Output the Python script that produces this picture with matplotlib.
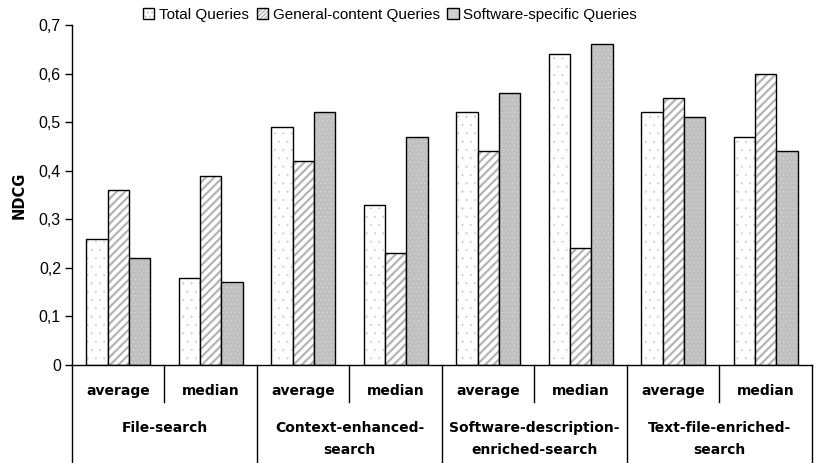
import matplotlib
matplotlib.use("Agg")
import matplotlib.pyplot as plt
import numpy as np
from matplotlib.patches import Patch
from matplotlib.lines import Line2D

plt.rcParams['font.family'] = ['Liberation Sans', 'DejaVu Sans']

groups = ["File-search", "Context-enhanced-\nsearch", "Software-description-\nenriched-search", "Text-file-enriched-\nsearch"]
stats = ["average", "median"]
series = ["Total Queries", "General-content Queries", "Software-specific Queries"]
total = [0.26, 0.18, 0.49, 0.33, 0.52, 0.64, 0.52, 0.47]
general = [0.36, 0.39, 0.42, 0.23, 0.44, 0.24, 0.55, 0.60]
software = [0.22, 0.17, 0.52, 0.47, 0.56, 0.66, 0.51, 0.44]
yticks = [0, 0.1, 0.2, 0.3, 0.4, 0.5, 0.6, 0.7]
ylabels = ["0", "0,1", "0,2", "0,3", "0,4", "0,5", "0,6", "0,7"]

fig = plt.figure(figsize=(8.2, 4.63), dpi=100)
ax = fig.add_axes([72/820, 1-365/463, 740/820, 340/463])

n = len(total)
x = np.arange(n)
w = 0.23
styles = [
    dict(face='white', hatch='..', hcolor='#c8c8c8', hlw=0.2),
    dict(face='white', hatch='////', hcolor='#b4b4b4', hlw=1.6),
    dict(face='#c0c0c0', hatch='....', hcolor='#e4e4e4', hlw=0.2),
]
data = [total, general, software]
for i, (vals, st) in enumerate(zip(data, styles)):
    pos = x + (i - 1) * w
    plt.rcParams['hatch.linewidth'] = st['hlw']
    ax.bar(pos, vals, w, color=st['face'], hatch=st['hatch'], edgecolor=st['hcolor'], linewidth=0)
    ax.bar(pos, vals, w, facecolor='none', edgecolor='black', linewidth=1.0)

ax.set_xlim(-0.5, n - 0.5)
ax.set_ylim(0, 0.7)
ax.set_yticks(yticks)
ax.set_yticklabels(ylabels, fontsize=11.5)
ax.tick_params(axis='y', direction='out', length=5, width=1, pad=3)
ax.set_xticks([])
for s in ['top', 'right']:
    ax.spines[s].set_visible(False)
ax.spines['left'].set_linewidth(1)
ax.spines['bottom'].set_linewidth(1)
ax.set_ylabel("NDCG", fontsize=10.5, fontweight='bold', family='DejaVu Sans', labelpad=9)

# category table below the axis
px = 1.0 / 340
trans = ax.get_xaxis_transform()
for b in range(n + 1):
    xb = b - 0.5
    if b % 2 == 1:
        ax.add_line(Line2D([xb, xb], [0, -37 * px], transform=trans, color='black', lw=1, clip_on=False))
    else:
        ax.add_line(Line2D([xb, xb], [0, -100 * px], transform=trans, color='black', lw=1, clip_on=False))
for i in range(n):
    ax.text(i, -26 * px, stats[i % 2], transform=trans, ha='center', va='center',
            fontsize=10, fontweight='bold', family='DejaVu Sans')
for g, name in enumerate(groups):
    for k, line in enumerate(name.split('\n')):
        ax.text(2 * g + 0.5, (-63 - 22 * k) * px, line, transform=trans, ha='center', va='center',
                fontsize=10, fontweight='bold', family='DejaVu Sans')

plt.rcParams['hatch.linewidth'] = 1.0
handles = []
for st in styles:
    hp = Patch(facecolor=st['face'], hatch=st['hatch'] * 2, edgecolor=st['hcolor'], linewidth=0)
    op = Patch(facecolor='none', edgecolor='black', linewidth=1.0)
    handles.append((hp, op))
leg = fig.legend(handles, series, loc='center', bbox_to_anchor=(390/820, 1-15/463), ncol=3,
                 frameon=False, fontsize=11, handlelength=0.75, handleheight=0.75,
                 handletextpad=0.3, columnspacing=0.5, borderaxespad=0)

fig.savefig("out.png", dpi=100)
